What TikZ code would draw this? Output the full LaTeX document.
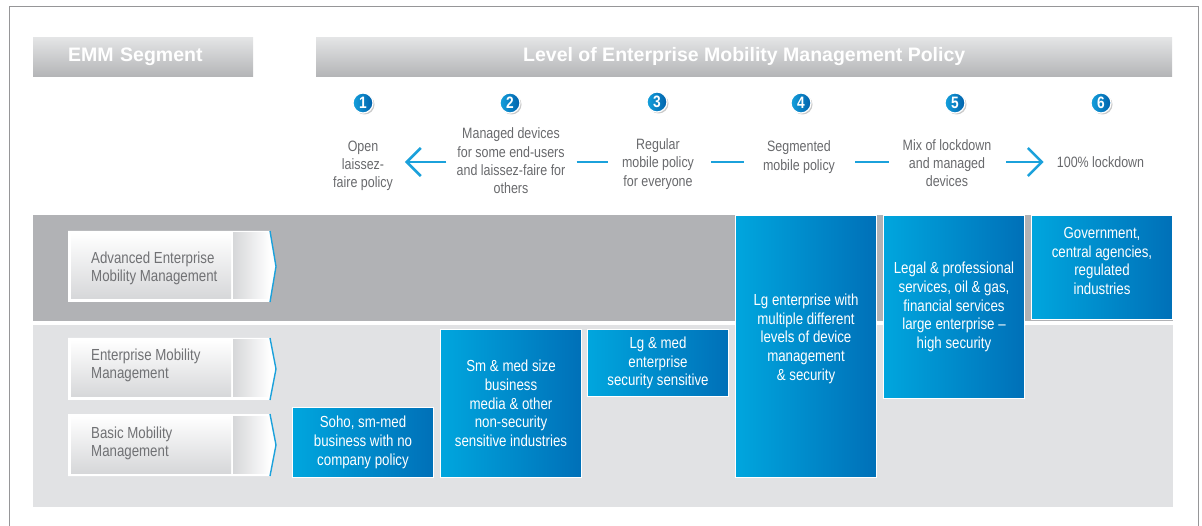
\documentclass[tikz,border=0pt]{standalone}
\usepackage{fontspec}
\setmainfont{Liberation Sans}[FakeStretch=0.83]
\newfontfamily\hdfont{Liberation Sans}
\usetikzlibrary{arrows.meta,shadows}

\definecolor{framegray}{RGB}{150,150,152}
\definecolor{hdtop}{RGB}{228,229,230}
\definecolor{hdbot}{RGB}{180,181,183}
\definecolor{banddark}{RGB}{177,178,181}
\definecolor{bandlight}{RGB}{225,226,228}
\definecolor{policygray}{RGB}{104,105,108}
\definecolor{labgray}{RGB}{112,113,116}
\definecolor{labshade}{RGB}{214,215,217}
\definecolor{flowblue}{RGB}{27,161,219}
\definecolor{boxlight}{RGB}{0,166,222}
\definecolor{boxdark}{RGB}{0,112,184}
\definecolor{dotlight}{RGB}{20,160,220}
\definecolor{dotdark}{RGB}{0,96,170}

\tikzset{
  hdbar/.style={top color=hdtop, bottom color=hdbot, inner sep=0pt, text=white,
    font=\hdfont\bfseries\fontsize{19.5}{22}\selectfont},
  policy/.style={inner sep=0pt, align=center, text=policygray,
    font=\fontsize{15}{18.3}\selectfont},
  numdot/.style={circle, minimum size=20pt, inner sep=0pt, draw=white, line width=1.2pt,
    left color=dotlight, right color=dotdark, text=white,
    font=\bfseries\fontsize{16.5}{16.5}\selectfont,
    drop shadow={shadow xshift=1.5pt, shadow yshift=-1.5pt, opacity=0.35, fill=black!60}},
  flow/.style={draw=flowblue, line width=2.6pt},
  flowtip/.style={flow, -{Straight Barb[length=14pt,width=28pt]}},
  seglab/.style={inner sep=0pt, align=left, text=labgray,
    font=\fontsize{16}{18}\selectfont},
  tipline/.style={draw=flowblue, line width=1.4pt},
  blubox/.style={left color=boxlight, right color=boxdark, draw=white, line width=1pt,
    inner sep=0pt, minimum width=141pt, align=center, text=white,
    font=\fontsize{16}{18.7}\selectfont}
}

\begin{document}
\begin{tikzpicture}[x=1pt,y=1pt,yscale=-1]
\useasboundingbox (0,0) rectangle (1202,526);

%Frame
\draw [framegray, line width=1pt] (9,526) -- (9,7) -- (1198,7) -- (1198,526);

% Header bars
\node [hdbar, anchor=north west, minimum width=220pt, minimum height=39pt,
  text width=150pt, inner xsep=35pt, align=left] (emmhd) at (33,37) {EMM Segment};
\node [hdbar, anchor=north west, minimum width=856pt, minimum height=39pt]
  (levelhd) at (316,37) {Level of Enterprise Mobility Management Policy};

% Number dots
\node [numdot] (c1) at (363,103) {1};
\node [numdot] (c2) at (510,103) {2};
\node [numdot] (c3) at (657,102) {3};
\node [numdot] (c4) at (801,103) {4};
\node [numdot] (c5) at (955,103) {5};
\node [numdot] (c6) at (1101,103) {6};

% Policy levels
\node [policy] (p1) at (363,166) {Open\\laissez-\\faire policy};
\node [policy] (p2) at (511,161) {Managed devices\\for some end-users\\and laissez-faire for\\others};
\node [policy] (p3) at (658,164) {Regular\\mobile policy\\for everyone};
\node [policy] (p4) at (799,157) {Segmented\\mobile policy};
\node [policy] (p5) at (947,163) {Mix of lockdown\\and managed\\devices};
\node [policy] (p6) at (1100.5,162) {100\% lockdown};

\coordinate (lvl) at (0,162);
%Straight Lines
\draw [flowtip, shorten <=10pt, shorten >=12pt] (p2.west |- lvl) -- (p1.east |- lvl);
\draw [flow, shorten <=11pt, shorten >=14pt] (p2.east |- lvl) -- (p3.west |- lvl);
\draw [flow, shorten <=17pt, shorten >=19pt] (p3.east |- lvl) -- (p4.west |- lvl);
\draw [flow, shorten <=20pt, shorten >=14pt] (p4.east |- lvl) -- (p5.west |- lvl);
\draw [flowtip, shorten <=15pt, shorten >=13pt] (p5.east |- lvl) -- (p6.west |- lvl);

% Bands
\fill [banddark] (33,215) rectangle (1173,321);
\fill [bandlight] (33,325) rectangle (1173,507);

% Segment label: advanced
\fill [white] (68,231) -- (270,231) -- (276,266.5) -- (270,302) -- (68,302) -- cycle;
\shade [top color=white, bottom color=labshade] (71,233) rectangle (231,299);
\shade [left color=labshade, right color=white] (233,233) rectangle (270,299);
\draw [tipline] (270,231) -- (276,266.5) -- (270,302);
\node [seglab, anchor=west] (advemm) at (91,268) {Advanced Enterprise\\Mobility Management};

% Segment label: enterprise
\fill [white] (68,338) -- (270,338) -- (276,369) -- (270,400) -- (68,400) -- cycle;
\shade [top color=white, bottom color=labshade] (71,340) rectangle (231,397);
\shade [left color=labshade, right color=white] (233,340) rectangle (270,397);
\draw [tipline] (270,338) -- (276,369) -- (270,400);
\node [seglab, anchor=west] (entemm) at (91,365) {Enterprise Mobility\\Management};

% Segment label: basic
\fill [white] (68,414) -- (270,414) -- (276,445) -- (270,476) -- (68,476) -- cycle;
\shade [top color=white, bottom color=labshade] (71,416) rectangle (231,473);
\shade [left color=labshade, right color=white] (233,416) rectangle (270,473);
\draw [tipline] (270,414) -- (276,445) -- (270,476);
\node [seglab, anchor=west] (basicmm) at (91,443) {Basic Mobility\\Management};

% Blue segment boxes
\node [blubox, minimum height=70pt] (soho) at (363,442.5) {Soho, sm-med\\business with no\\company policy};
\node [blubox, minimum height=148pt] (smmed) at (511,403.5) {Sm \& med size\\business\\media \& other\\non-security\\sensitive industries};
\node [blubox, minimum height=67pt] (lgmed) at (658,363) {Lg \& med\\enterprise\\security sensitive};
\node [blubox, minimum height=262pt, text depth=19pt] (lgent) at (806,346.5) {Lg enterprise with\\multiple different\\levels of device\\management\\\& security};
\node [blubox, minimum height=183pt] (legal) at (954,307) {Legal \& professional\\services, oil \& gas,\\financial services\\large enterprise --\\high security};
\node [blubox, minimum height=104pt, text depth=13pt] (govt) at (1102,267.5) {Government,\\central agencies,\\regulated\\industries};

\end{tikzpicture}
\end{document}
